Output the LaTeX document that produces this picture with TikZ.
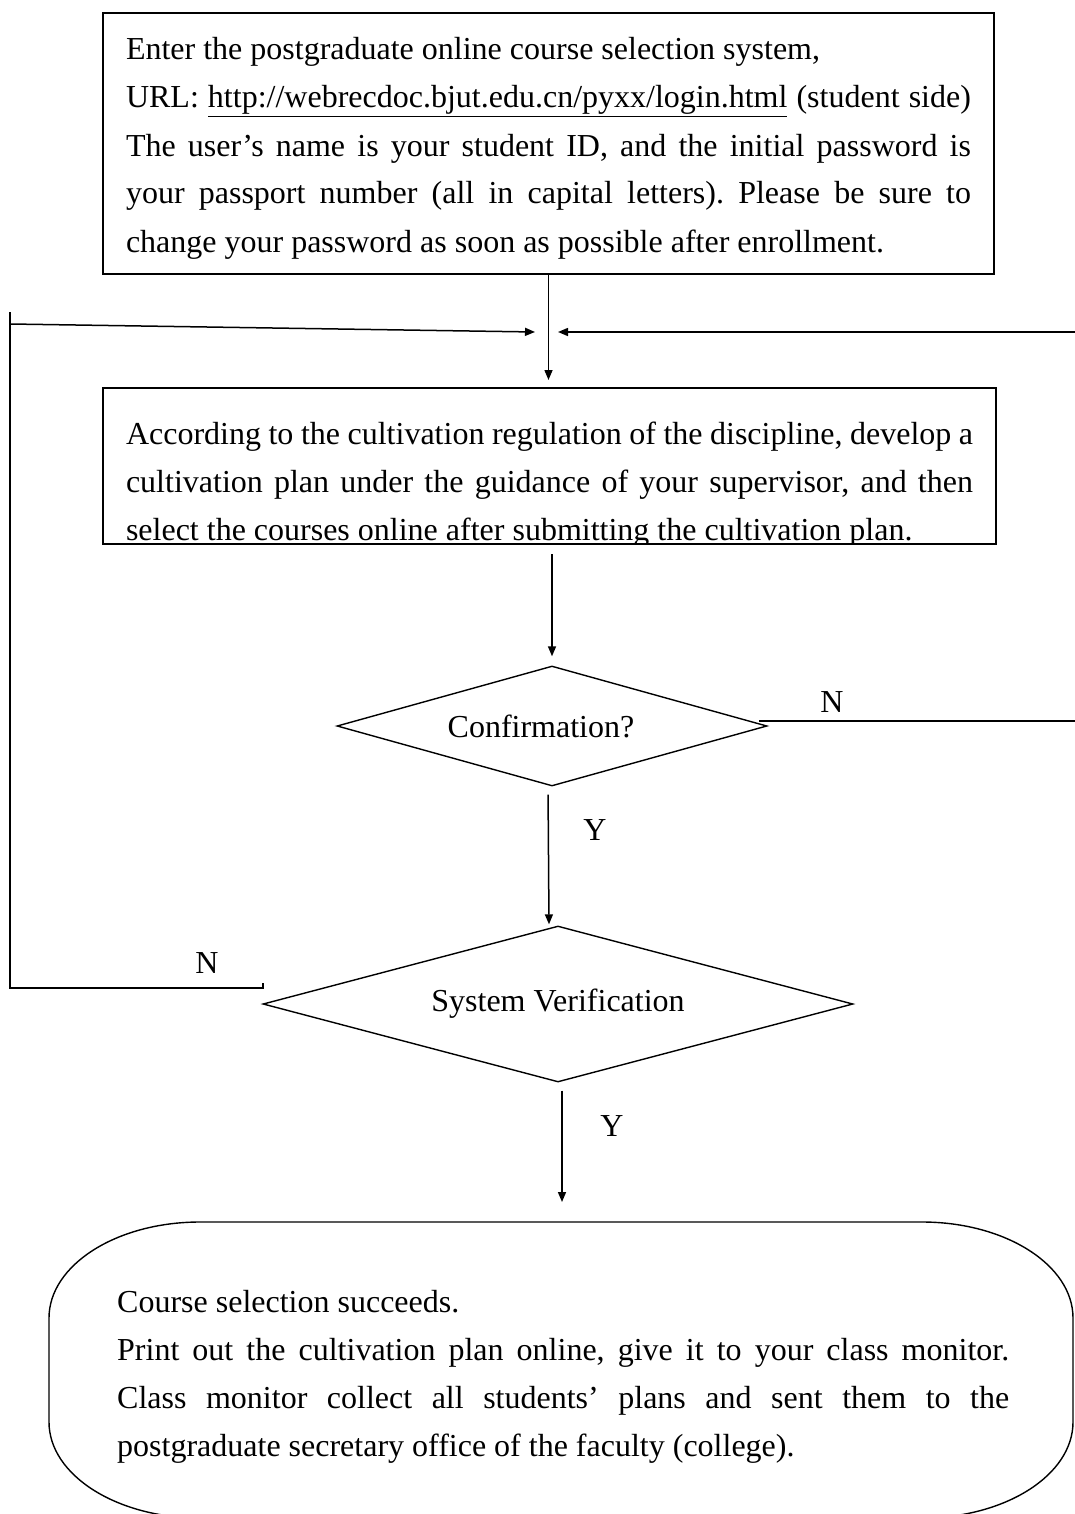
\documentclass[tikz,border=0pt]{standalone}
\usepackage{fontspec}
\setmainfont{Liberation Serif}
\usetikzlibrary{shapes.geometric,arrows.meta}
\frenchspacing
\newcommand\jl[1]{\hbox to\hsize{#1}}
\newcommand\nl[1]{\hbox{#1}}
\begin{document}
\begin{tikzpicture}[x=1pt,y=-1pt,
  every node/.style={font=\fontsize{32pt}{48pt}\selectfont},
  box/.style={draw,line width=2pt,rectangle,anchor=north west,inner xsep=23pt,inner ysep=0pt},
  dia/.style={draw,line width=1.4pt,diamond,inner sep=0pt},
  lbl/.style={inner sep=0pt,anchor=base},
  conn/.style={line width=1.5pt},
  arr/.style={conn,-{Triangle[length=10pt,width=8pt]}}]
\useasboundingbox (0,0) rectangle (1075,1514);

% top box
\node[box] (b1) at (102,12) {\vbox{\hsize=845pt
  \nl{\rule{0pt}{47pt}Enter the postgraduate online course selection system,}
  \jl{URL: \underline{http://webrecdoc.bjut.edu.cn/pyxx/login.html} (student side)}
  \jl{The user’s name is your student ID, and the initial password is}
  \jl{your passport number (all in capital letters). Please be sure to}
  \nl{change your password as soon as possible after enrollment.\rule[-22pt]{0pt}{22pt}}}};

% second box (text clipped by its frame)
\begin{scope}
\clip (100,385) rectangle (997,544);
\node[box] (b2) at (102,387) {\vbox{\hsize=847pt
  \jl{\rule{0pt}{56pt}According to the cultivation regulation of the discipline, develop a}
  \jl{cultivation plan under the guidance of your supervisor, and then}
  \nl{\smash{select the courses online after submitting the cultivation plan.}\rule[-4pt]{0pt}{4pt}}}};
\end{scope}

% decisions
\node[dia,aspect=3.583,minimum width=430pt,minimum height=120pt] (d1) at (552,726) {Confirmation?\hspace*{22pt}};
\node[dia,aspect=3.782,minimum width=590pt,minimum height=156pt] (d2) at (558,1004) {System Verification};

% final terminal shape (its lower edge runs off the page)
\draw[line width=1.4pt] (200,1222) .. controls (116.6,1222) and (49,1265) .. (49,1318)
  -- (49,1422) .. controls (49,1475) and (116.6,1518) .. (200,1518)
  -- (922,1518) .. controls (1005.4,1518) and (1073,1475) .. (1073,1422)
  -- (1073,1318) .. controls (1073,1265) and (1005.4,1222) .. (922,1222) -- cycle;
\coordinate (endtop) at (562,1222);
\node[inner sep=0pt,anchor=north west] (done) at (117,1282) {\vbox{\hsize=892pt
  \nl{\rule{0pt}{30pt}Course selection succeeds.}
  \jl{Print out the cultivation plan online, give it to your class monitor.}
  \jl{Class monitor collect all students’ plans and sent them to the}
  \nl{postgraduate secretary office of the faculty (college).}}};

% labels
\node[lbl] (y1) at (595,840) {Y};
\node[lbl] (y2) at (612,1136) {Y};
\node[lbl] (n1) at (832,712) {N};
\node[lbl] (n2) at (207,973) {N};

% main connectors
\draw[arr,shorten >=7pt] (b1.south) -- (b1.south |- b2.north);
\draw[arr,shorten <=9pt,shorten >=9pt] (b2.south -| d1.north) -- (d1.north);
\draw[arr,shorten <=8pt,shorten >=1pt] ([xshift=-4pt]d1.south) -- ([xshift=-9pt]d2.north);
\draw[arr,shorten <=8pt,shorten >=20pt] ([xshift=4pt]d2.south) -- (endtop);

% left loop (System Verification: N)
\coordinate (nl1) at (263,983);
\coordinate (nl2) at (263,988);
\coordinate (lb) at (10,988);
\coordinate (lt) at (10,312);
\coordinate (la) at (10,324);
\coordinate (lat) at (535,332);
\draw[conn] (nl1) -- (nl2) -- (lb) -- (lt);
\draw[arr] (la) -- (lat);

% right loop (Confirmation: N)
\coordinate (rn) at (759,721);
\coordinate (re) at (1080,721);
\coordinate (rt) at (1080,332);
\coordinate (rat) at (558,332);
\draw[arr] (rn) -- (re) -- (rt) -- (rat);
\end{tikzpicture}
\end{document}
